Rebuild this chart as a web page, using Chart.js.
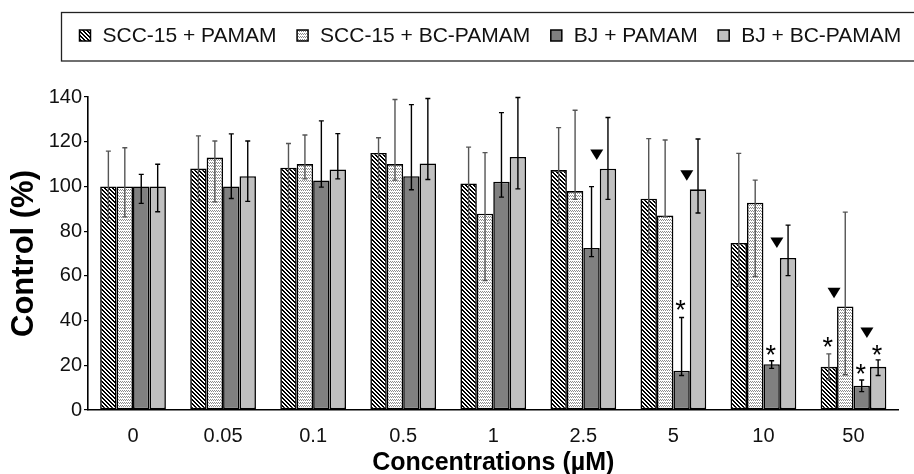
<!DOCTYPE html>
<html>
<head>
<meta charset="utf-8">
<script src="https://cdn.jsdelivr.net/npm/chart.js@4.4.1/dist/chart.umd.min.js"></script>
<style>
  html, body { margin: 0; padding: 0; background: #fff; }
  #wrap { width: 914px; height: 474px; }
</style>
</head>
<body>
<div id="wrap"><canvas id="c" width="914" height="474"></canvas></div>
<script>
// ---- data ----
const categories = ['0', '0.05', '0.1', '0.5', '1', '2.5', '5', '10', '50'];
const seriesLabels = ['SCC-15 + PAMAM', 'SCC-15 + BC-PAMAM', 'BJ + PAMAM', 'BJ + BC-PAMAM'];

const sccPamam     = [100, 108, 108.4, 115, 101.3, 107.3, 94.5, 74.7, 19.3];
const sccBcPamam   = [100, 112.9, 110, 110, 87.8, 97.9, 87, 92.7, 46.3];
const bjPamam      = [100, 100, 102.7, 104.6, 102.1, 72.5, 17.6, 20.5, 10.9];
const bjBcPamam    = [100, 104.6, 107.6, 110.3, 113.2, 107.9, 98.7, 68, 19.3];

// error bar upper / lower whisker ends
const sccPamamHi   = [115.8, 122.6, 119.2, 121.8, 117.6, 126.3, 121.4, 114.8, 25.1];
const sccPamamLo   = [84.4, 93.6, 89.2, 95.2, 83.7, 83.4, 70.3, 55.3, 13.5];
const sccBcPamamHi = [117.3, 120.3, 123.0, 138.9, 115.1, 134.1, 120.8, 102.8, 88.5];
const sccBcPamamLo = [86.4, 93.1, 103.4, 102.8, 57.9, 94.2, 86.4, 59.7, 15.8];
const bjPamamHi    = [105.4, 123.5, 129.3, 136.6, 133.0, 99.9, 41.4, 22.0, 13.4];
const bjPamamLo    = [92.4, 94.6, 99.7, 98.5, 95.2, 68.6, 15.4, 18.6, 8.2];
const bjBcPamamHi  = [109.9, 120.3, 123.6, 139.3, 139.8, 130.8, 121.2, 82.7, 22.4];
const bjBcPamamLo  = [88.7, 93.3, 103.4, 103.1, 98.9, 94.2, 88.1, 60.1, 15.4];

// significance markers (value level of the mark centre)
const triangleSccBc = [null, null, null, null, null, null, null, null, 52.5];
const triangleBjBc  = [null, null, null, null, null, 114.3, 105, 74.9, 34.7];
const starSccPamam  = [null, null, null, null, null, null, null, null, 31];
const starBjPamam   = [null, null, null, null, null, null, 47.5, 27.7, 19.1];
const starBjBc      = [null, null, null, null, null, null, null, null, 27.4];

const yTicks = [0, 20, 40, 60, 80, 100, 120, 140];

// ---- patterns ----
function makeTile(w, h, painter) {
  const cv = document.createElement('canvas');
  cv.width = w; cv.height = h;
  const g = cv.getContext('2d');
  g.fillStyle = '#fff'; g.fillRect(0, 0, w, h);
  painter(g);
  return cv;
}
const ctx0 = document.getElementById('c').getContext('2d');
const hatchTile = makeTile(4, 4, g => {
  g.fillStyle = '#000';
  for (let y = 0; y < 4; y++) for (let x = 0; x < 4; x++) {
    const d = ((x - y) % 4 + 4) % 4;
    if (d === 0 || d === 1) g.fillRect(x, y, 1, 1);
  }
});
const dotTile = makeTile(4, 3, g => {
  g.fillStyle = '#8c8c8c';
  g.fillRect(0, 0, 1, 1); g.fillRect(2, 0, 1, 1);
  g.fillRect(1, 1, 1, 1); g.fillRect(3, 1, 1, 1);
});
const hatchPattern = ctx0.createPattern(hatchTile, 'repeat');
const dotPattern = ctx0.createPattern(dotTile, 'repeat');
const fills = [hatchPattern, dotPattern, '#808080', '#c0c0c0'];
const errColors = ['#555', '#555', '#000', '#000'];

const values = [sccPamam, sccBcPamam, bjPamam, bjBcPamam];
const his = [sccPamamHi, sccBcPamamHi, bjPamamHi, bjBcPamamHi];
const los = [sccPamamLo, sccBcPamamLo, bjPamamLo, bjBcPamamLo];
const triangles = [null, triangleSccBc, null, triangleBjBc];
const stars = [starSccPamam, null, starBjPamam, starBjBc];

const FONT = '"Liberation Sans", Arial, sans-serif';

const errorBarPlugin = {
  id: 'errorBars',
  afterDatasetsDraw(chart) {
    const g = chart.ctx, ys = chart.scales.y;
    g.save();
    chart.data.datasets.forEach((ds, di) => {
      const meta = chart.getDatasetMeta(di);
      meta.data.forEach((el, i) => {
        const hi = his[di][i], lo = los[di][i];
        if (hi == null) return;
        const x = el.x, y1 = ys.getPixelForValue(hi), y2 = ys.getPixelForValue(lo);
        g.strokeStyle = errColors[di];
        g.lineWidth = 1.4;
        g.beginPath();
        g.moveTo(x, y1); g.lineTo(x, y2);
        g.moveTo(x - 2.5, y1); g.lineTo(x + 2.5, y1);
        g.moveTo(x - 2.5, y2); g.lineTo(x + 2.5, y2);
        g.stroke();
      });
    });
    g.restore();
  }
};

const markerPlugin = {
  id: 'markers',
  afterDatasetsDraw(chart) {
    const g = chart.ctx, ys = chart.scales.y;
    g.save();
    chart.data.datasets.forEach((ds, di) => {
      const meta = chart.getDatasetMeta(di);
      meta.data.forEach((el, i) => {
        const tri = triangles[di] && triangles[di][i];
        if (tri != null) {
          const cx = el.x - el.width / 2 - 3;
          const cy = ys.getPixelForValue(tri);
          g.fillStyle = '#000';
          g.beginPath();
          g.moveTo(cx - 6.5, cy - 5);
          g.lineTo(cx + 6.5, cy - 5);
          g.lineTo(cx, cy + 5.5);
          g.closePath();
          g.fill();
        }
        const st = stars[di] && stars[di][i];
        if (st != null) {
          const cy = ys.getPixelForValue(st);
          g.fillStyle = '#000';
          g.font = '27px ' + FONT;
          g.textAlign = 'center';
          g.textBaseline = 'alphabetic';
          g.fillText('*', el.x - 1, cy + 15.5);
        }
      });
    });
    g.restore();
  }
};

const legendPlugin = {
  id: 'boxLegend',
  afterDraw(chart) {
    const g = chart.ctx;
    g.save();
    g.strokeStyle = '#222';
    g.lineWidth = 1.3;
    g.strokeRect(61.5, 12.5, 900, 48.5);
    g.font = '21px ' + FONT;
    g.textBaseline = 'middle';
    g.textAlign = 'left';
    let x = 79.5;
    chart.data.datasets.forEach((ds, di) => {
      g.fillStyle = fills[di];
      g.fillRect(x, 30, 11, 11);
      g.strokeStyle = '#000';
      g.lineWidth = 1.5;
      g.strokeRect(x, 30, 11, 11);
      const tx = x + 11 + 12;
      g.fillStyle = '#111';
      g.fillText(ds.label, tx, 36);
      x = tx + g.measureText(ds.label).width + 20.5;
    });
    g.restore();
  }
};

new Chart(document.getElementById('c'), {
  type: 'bar',
  data: {
    labels: categories,
    datasets: values.map((v, di) => ({
      label: seriesLabels[di],
      data: v,
      backgroundColor: fills[di],
      borderColor: '#000',
      borderWidth: 1.6,
      borderSkipped: false,
      categoryPercentage: 0.73,
      barPercentage: 1.0
    }))
  },
  options: {
    responsive: false,
    animation: false,
    devicePixelRatio: 1,
    layout: { padding: { top: 97, right: 15.5, bottom: 0, left: 0 } },
    plugins: { legend: { display: false }, tooltip: { enabled: false } },
    scales: {
      x: {
        grid: { display: false, drawTicks: false },
        border: { display: true, color: '#000', width: 1.6 },
        ticks: { font: { family: FONT, size: 20 }, color: '#111', padding: 14, maxRotation: 0, autoSkip: false },
        title: { display: true, text: 'Concentrations (µM)', color: '#000',
                 font: { family: FONT, size: 25, weight: 'bold', lineHeight: 0.85 },
                 padding: { top: 0, bottom: 0 } },
        afterFit(s) { s.height = 64; }
      },
      y: {
        min: 0, max: 140,
        afterBuildTicks(s) { s.ticks = yTicks.map(v => ({ value: v })); },
        ticks: { font: { family: FONT, size: 20 }, color: '#111', padding: 2 },
        grid: { display: true, drawOnChartArea: false, drawTicks: true, tickLength: 4, color: '#000', lineWidth: 1.2 },
        border: { display: true, color: '#000', width: 1.6 },
        title: { display: true, text: 'Control (%)', color: '#000',
                 font: { family: FONT, size: 31, weight: 'bold', lineHeight: 1 },
                 padding: { top: 9, bottom: 0 } },
        afterFit(s) { s.width = 88; }
      }
    }
  },
  plugins: [errorBarPlugin, markerPlugin, legendPlugin]
});
</script>
</body>
</html>
